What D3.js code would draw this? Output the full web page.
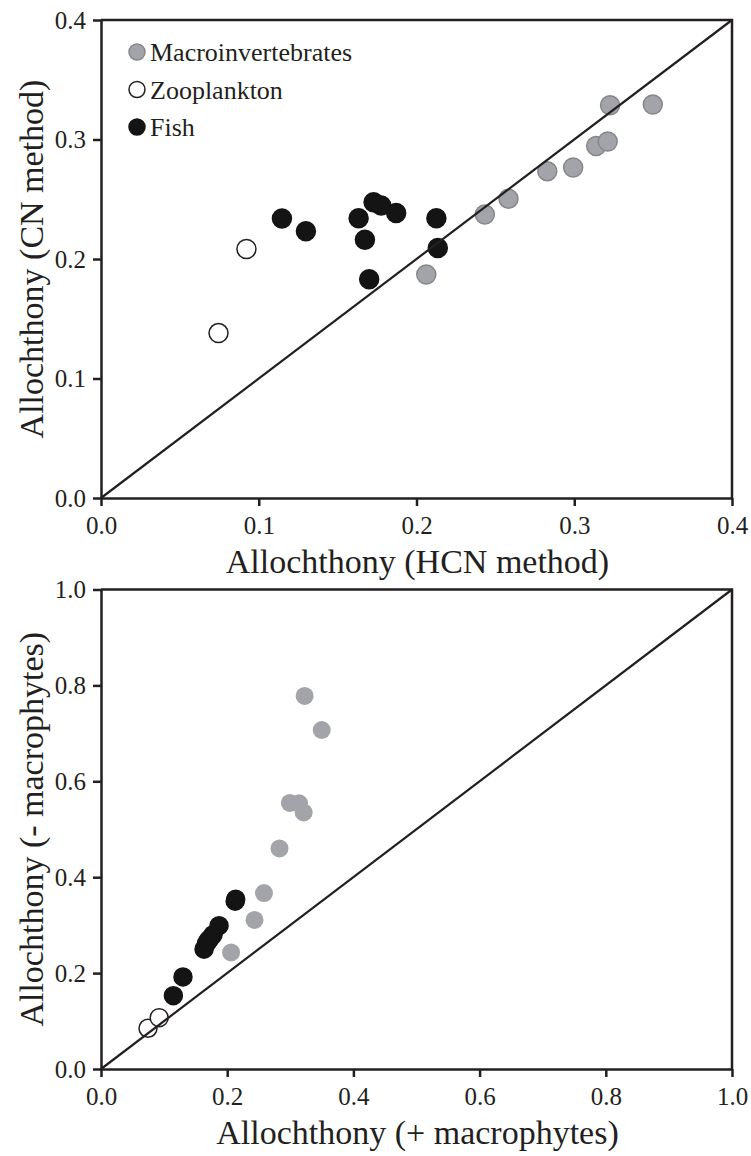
<!DOCTYPE html>
<html>
<head>
<meta charset="utf-8">
<script src="https://cdn.jsdelivr.net/npm/d3@7"></script>
<style>
  body { margin: 0; background: #fff; }
  svg text { font-family: "Liberation Serif", "Times New Roman", serif; fill: #231f20; }
  .tick text { font-size: 25px; }
  .axis-label { font-size: 34px; }
  .legend-label { font-size: 26px; }
</style>
</head>
<body>
<svg width="751" height="1156"></svg>
<script>
// allochthony estimates
const macroHCN = [0.2062, 0.2433, 0.2583, 0.2829, 0.2993, 0.3139, 0.3212, 0.3227, 0.3498];
const macroCN = [0.187, 0.2372, 0.2505, 0.2735, 0.2766, 0.2946, 0.2983, 0.3287, 0.3293];
const macroMinus = [0.243, 0.311, 0.367, 0.460, 0.555, 0.554, 0.535, 0.778, 0.707];

const zooHCN = [0.0745, 0.0922];
const zooCN = [0.138, 0.2084];
const zooMinus = [0.085, 0.107];

const fishHCN = [0.1147, 0.1299, 0.1633, 0.1673, 0.170, 0.1728, 0.1776, 0.1871, 0.2126, 0.2135];
const fishCN = [0.2338, 0.2233, 0.2341, 0.2161, 0.183, 0.2474, 0.2447, 0.2384, 0.2341, 0.2093];
const fishMinus = [0.153, 0.192, 0.250, 0.262, 0.268, 0.272, 0.280, 0.299, 0.350, 0.354];

const groups = ['Macroinvertebrates', 'Zooplankton', 'Fish'];
const topTicks = [0, 0.1, 0.2, 0.3, 0.4];
const bottomTicks = [0, 0.2, 0.4, 0.6, 0.8, 1.0];

const style = {
  Macroinvertebrates: { fill: '#a2a4a9', stroke: '#85878c' },
  Zooplankton: { fill: '#ffffff', stroke: '#231f20' },
  Fish: { fill: '#141414', stroke: '#141414' }
};

const serif = '"Liberation Serif", "Times New Roman", serif';
const zip = (group, xs, ys) => xs.map((x, i) => ({ group, x, y: ys[i] }));

const svg = d3.select('svg');

const drawPanel = (opts) => {
  const g = svg.append('g');
  const xScale = d3.scaleLinear().domain(opts.domain).range([101, 732]);
  const yScale = d3.scaleLinear().domain(opts.domain).range([opts.bottom, opts.top]);

  const xAxis = d3.axisBottom(xScale)
    .tickValues(opts.ticks)
    .tickFormat(d3.format('.1f'))
    .tickSizeInner(8)
    .tickSizeOuter(0)
    .tickPadding(10);
  const yAxis = d3.axisLeft(yScale)
    .tickValues(opts.ticks)
    .tickFormat(d3.format('.1f'))
    .tickSizeInner(8)
    .tickSizeOuter(0)
    .tickPadding(7);

  const xAxisG = g.append('g')
    .attr('transform', `translate(0,${opts.bottom})`)
    .call(xAxis);
  const yAxisG = g.append('g')
    .attr('transform', `translate(101,0)`)
    .call(yAxis);

  [xAxisG, yAxisG].forEach(a => {
    a.attr('font-family', serif).attr('font-size', 25);
    a.select('.domain').attr('stroke', '#231f20').attr('stroke-width', 2.5);
    a.selectAll('.tick line').attr('stroke', '#231f20').attr('stroke-width', 2.5);
    a.selectAll('.tick text').attr('fill', '#231f20');
  });

  // top and right frame
  g.append('path')
    .attr('d', `M${xScale.range()[0]},${opts.top}H${xScale.range()[1]}V${opts.bottom}`)
    .attr('fill', 'none')
    .attr('stroke', '#231f20')
    .attr('stroke-width', 2.5);

  g.selectAll('circle.pt').data(opts.data)
    .enter().append('circle')
    .attr('class', 'pt')
    .attr('cx', d => xScale(d.x))
    .attr('cy', d => yScale(d.y))
    .attr('r', opts.r)
    .attr('fill', d => style[d.group].fill)
    .attr('stroke', d => opts.grayStroke || d.group !== 'Macroinvertebrates' ? style[d.group].stroke : 'none')
    .attr('stroke-width', 1.5);

  // 1:1 line
  g.append('line')
    .attr('x1', xScale(opts.domain[0]))
    .attr('y1', yScale(opts.domain[0]))
    .attr('x2', xScale(opts.domain[1]))
    .attr('y2', yScale(opts.domain[1]))
    .attr('stroke', '#231f20')
    .attr('stroke-width', 2.2);

  g.append('text')
    .attr('class', 'axis-label')
    .attr('x', (xScale.range()[0] + xScale.range()[1]) / 2 + 1)
    .attr('y', opts.bottom + 75)
    .attr('text-anchor', 'middle')
    .text(opts.xLabel);

  g.append('text')
    .attr('class', 'axis-label')
    .attr('transform', `translate(43,${(opts.top + opts.bottom) / 2}) rotate(-90)`)
    .attr('text-anchor', 'middle')
    .text(opts.yLabel);

  return g;
};

const topPanel = drawPanel({
  domain: [0, 0.4],
  ticks: topTicks,
  top: 20,
  bottom: 498,
  r: 9.5,
  grayStroke: true,
  xLabel: 'Allochthony (HCN method)',
  yLabel: 'Allochthony (CN method)',
  data: [].concat(
    zip('Macroinvertebrates', macroHCN, macroCN),
    zip('Zooplankton', zooHCN, zooCN),
    zip('Fish', fishHCN, fishCN))
});

drawPanel({
  domain: [0, 1],
  ticks: bottomTicks,
  top: 589.5,
  bottom: 1069,
  r: 9,
  grayStroke: false,
  xLabel: 'Allochthony (+ macrophytes)',
  yLabel: 'Allochthony (- macrophytes)',
  data: [].concat(
    zip('Macroinvertebrates', macroHCN, macroMinus),
    zip('Zooplankton', zooHCN, zooMinus),
    zip('Fish', fishHCN, fishMinus))
});

// legend
const legendG = topPanel.append('g').attr('transform', 'translate(137,52)');
const legendItem = legendG.selectAll('g').data(groups)
  .enter().append('g')
  .attr('transform', (d, i) => `translate(0,${i * 37.5})`);
legendItem.append('circle')
  .attr('r', 8)
  .attr('fill', d => style[d].fill)
  .attr('stroke', d => style[d].stroke)
  .attr('stroke-width', 1.5);
legendItem.append('text')
  .attr('class', 'legend-label')
  .attr('x', 13)
  .attr('y', 9)
  .text(d => d);
</script>
</body>
</html>
